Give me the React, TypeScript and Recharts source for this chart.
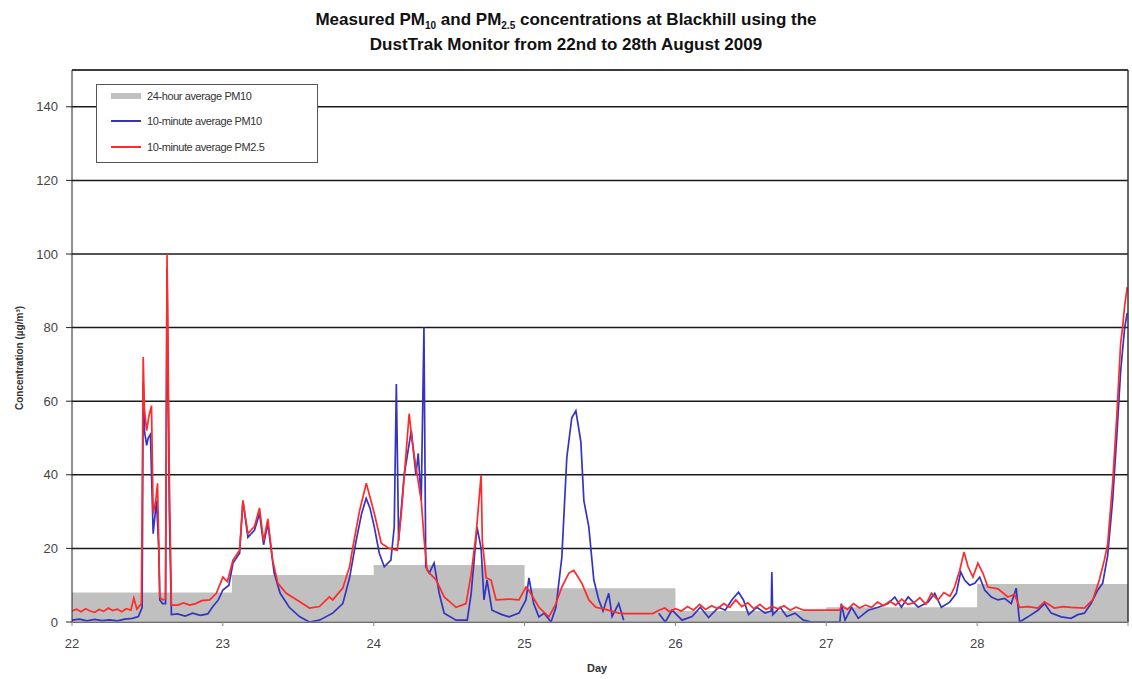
import { ComposedChart, Line, Area, XAxis, YAxis, CartesianGrid, ReferenceLine } from 'recharts';

// x axis: day of August 2009, y axis: concentration (µg/m³)
const dayTicks = [22, 23, 24, 25, 26, 27, 28, 29];
const concTicks = [0, 20, 40, 60, 80, 100, 120, 140];

// 24-hour average PM10, step starts
const avg24: [number, number][] = [
  [22, 8], [23.06, 12.8], [24, 15.5], [25, 9.2], [26, 3], [27, 4], [28, 10.3], [29, 10.3],
];

// 10-minute average PM10 (null = no reading)
const pm10: [number, number | null][] = [
  [22.0, 0.5], [22.05, 0.8], [22.1, 0.3], [22.15, 0.7], [22.2, 0.4], [22.25, 0.6], [22.3, 0.3],
  [22.35, 0.8], [22.4, 1.0], [22.44, 1.5], [22.465, 4], [22.472, 65], [22.48, 52], [22.495, 48],
  [22.505, 50], [22.52, 51], [22.538, 24], [22.56, 33], [22.575, 20], [22.582, 6], [22.6, 5],
  [22.62, 5], [22.63, 96], [22.645, 30], [22.659, 2], [22.7, 2.2], [22.75, 1.6], [22.8, 2.4],
  [22.85, 1.8], [22.9, 2.2], [22.93, 4.0], [22.97, 6.0], [23.0, 8.7], [23.04, 10], [23.067, 16],
  [23.111, 18.7], [23.133, 33], [23.166, 23], [23.21, 25], [23.243, 29.5], [23.27, 21],
  [23.298, 26.8], [23.34, 13.3], [23.38, 7.8], [23.44, 4], [23.51, 1.4], [23.574, 0], [23.64, 0.5],
  [23.728, 2.4], [23.795, 5], [23.84, 12], [23.883, 22], [23.92, 29.5], [23.95, 33.6], [23.975, 31],
  [24.004, 25.8], [24.037, 18.7], [24.07, 15], [24.114, 16.8], [24.136, 25.8], [24.15, 64.7],
  [24.165, 22], [24.202, 40], [24.249, 52], [24.28, 40], [24.295, 45.8], [24.315, 33], [24.333, 80],
  [24.345, 15], [24.368, 13.3], [24.4, 16], [24.434, 7.8], [24.467, 2.4], [24.546, 0.5], [24.62, 0.5],
  [24.646, 7.8], [24.685, 25.8], [24.712, 20], [24.731, 6], [24.751, 11.4], [24.784, 3.2], [24.85, 2],
  [24.897, 1.4], [24.963, 2.4], [25.009, 6], [25.029, 12], [25.06, 5], [25.095, 1.4], [25.13, 2.4],
  [25.175, 0], [25.208, 4], [25.247, 17.6], [25.28, 44.7], [25.313, 55.5], [25.34, 57.4], [25.373, 49],
  [25.393, 33], [25.426, 25.8], [25.459, 11.4], [25.492, 6], [25.52, 3], [25.558, 7.8], [25.58, 1.5],
  [25.624, 5], [25.657, 0.5], [25.7, null], [25.85, null], [25.889, 2.4], [25.933, 0], [25.978, 3.2],
  [26.044, 0.5], [26.11, 1.5], [26.165, 4], [26.22, 1.2], [26.286, 4], [26.33, 3.2], [26.374, 6],
  [26.418, 8.1], [26.451, 6], [26.485, 2], [26.54, 4], [26.595, 2.4], [26.635, 3], [26.639, 13.6],
  [26.645, 2.0], [26.694, 4], [26.738, 1.5], [26.793, 2.4], [26.848, 0.5], [26.903, 0], [26.99, 0],
  [27.09, 0], [27.1, 5], [27.124, 0.5], [27.168, 4], [27.212, 1], [27.278, 3.2], [27.344, 4],
  [27.41, 5], [27.454, 6.8], [27.498, 4], [27.543, 6.8], [27.609, 4], [27.675, 5.4], [27.719, 7.8],
  [27.763, 4], [27.818, 5.4], [27.862, 7.8], [27.891, 13.6], [27.917, 11.4], [27.95, 10],
  [27.984, 10.5], [28.017, 12.2], [28.05, 8.7], [28.094, 6.8], [28.138, 6], [28.182, 6.4],
  [28.226, 5], [28.259, 9.2], [28.281, 0], [28.337, 1.4], [28.403, 3.2], [28.447, 5], [28.491, 2.4],
  [28.557, 1.4], [28.623, 1], [28.667, 2], [28.711, 2.4], [28.755, 5], [28.8, 8.7], [28.832, 10.5],
  [28.865, 18], [28.898, 33], [28.925, 50], [28.951, 68], [28.978, 80], [28.995, 84],
];

// 10-minute average PM2.5
const pm25: [number, number][] = [
  [22.0, 3.0], [22.03, 3.5], [22.06, 2.8], [22.09, 3.6], [22.12, 3.0], [22.15, 2.6], [22.18, 3.4],
  [22.21, 2.9], [22.24, 3.8], [22.27, 3.1], [22.3, 3.5], [22.33, 2.8], [22.36, 3.6], [22.39, 3.2],
  [22.41, 6.5], [22.43, 3.5], [22.46, 5], [22.472, 72], [22.48, 58], [22.495, 52], [22.51, 56],
  [22.527, 58.8], [22.538, 29.5], [22.555, 33], [22.567, 37.7], [22.582, 6.8], [22.6, 6.0],
  [22.62, 6.2], [22.63, 100], [22.645, 40], [22.659, 4.6], [22.7, 4.6], [22.74, 5.2], [22.78, 4.6],
  [22.82, 5.0], [22.86, 5.8], [22.913, 6.0], [22.957, 7.8], [23.0, 12.2], [23.03, 11], [23.067, 16.8],
  [23.111, 19.5], [23.133, 33], [23.166, 24], [23.21, 26], [23.243, 31], [23.27, 22], [23.298, 28],
  [23.33, 16.8], [23.365, 10.5], [23.42, 7.8], [23.51, 5.5], [23.574, 3.8], [23.64, 4.2],
  [23.706, 6.8], [23.728, 6], [23.795, 9.2], [23.84, 15], [23.858, 19.5], [23.905, 30],
  [23.951, 37.7], [24.004, 29.5], [24.05, 21.4], [24.103, 20], [24.156, 19.5], [24.183, 29.5],
  [24.235, 56.6], [24.255, 49], [24.28, 42], [24.315, 33], [24.335, 22], [24.354, 14], [24.414, 11.4],
  [24.467, 6.8], [24.546, 4], [24.612, 5], [24.646, 13], [24.679, 24], [24.712, 40], [24.72, 22],
  [24.745, 12], [24.778, 11.4], [24.811, 6], [24.9, 6.2], [24.963, 6], [25.009, 9.5], [25.03, 8.5],
  [25.095, 4], [25.161, 1.4], [25.208, 5], [25.247, 9.5], [25.294, 13.3], [25.327, 14], [25.38, 10.5],
  [25.426, 6], [25.472, 4], [25.53, 3.5], [25.624, 2.4], [25.67, 2.3], [25.75, 2.3], [25.85, 2.3],
  [25.89, 3.2], [25.93, 3.8], [25.96, 2.8], [26.0, 3.6], [26.04, 3.0], [26.08, 4.2], [26.12, 3.2],
  [26.16, 4.8], [26.2, 3.4], [26.24, 4.4], [26.28, 3.6], [26.32, 5.0], [26.36, 4.0], [26.4, 6.0],
  [26.44, 4.2], [26.48, 5.2], [26.52, 3.6], [26.56, 4.8], [26.6, 3.4], [26.64, 4.2], [26.68, 3.6],
  [26.72, 4.4], [26.76, 3.2], [26.8, 4.0], [26.85, 3.2], [26.9, 3.2], [26.95, 3.2], [27.0, 3.2],
  [27.09, 3.2], [27.1, 4.5], [27.14, 3.4], [27.18, 5.0], [27.22, 3.8], [27.26, 4.6], [27.3, 4.0],
  [27.34, 5.4], [27.38, 4.4], [27.42, 5.6], [27.46, 4.6], [27.5, 6.2], [27.54, 4.8], [27.58, 5.2],
  [27.62, 6.6], [27.66, 4.8], [27.697, 7.8], [27.74, 6.0], [27.78, 8.0], [27.82, 7.0], [27.851, 9.5],
  [27.884, 14], [27.913, 19], [27.94, 15], [27.972, 12.2], [28.005, 16], [28.038, 13.3],
  [28.071, 9.5], [28.138, 9], [28.204, 6.8], [28.248, 7.5], [28.281, 4], [28.34, 4.2], [28.402, 3.8],
  [28.446, 5.5], [28.512, 3.8], [28.57, 4.2], [28.622, 4.0], [28.711, 3.8], [28.766, 6],
  [28.81, 11.4], [28.843, 16.8], [28.865, 21], [28.898, 37.7], [28.925, 55.5], [28.951, 75.6],
  [28.964, 80], [28.978, 86], [28.995, 91],
];

const rows = (pts: [number, number | null][]) => pts.map(([day, v]) => ({ day, v }));

const FONT = "'Liberation Sans', Arial, sans-serif";

function LegendBox() {
  const item = (swatch: JSX.Element, text: string, top: number) => (
    <div style={{ position: 'absolute', left: 14, top, display: 'flex', alignItems: 'center' }}>
      <div style={{ width: 32, display: 'flex', alignItems: 'center' }}>{swatch}</div>
      <span style={{ marginLeft: 4, fontSize: 11, color: '#333', letterSpacing: -0.4 }}>{text}</span>
    </div>
  );
  return (
    <div style={{ position: 'absolute', left: 96, top: 84, width: 220, height: 77, border: '1px solid #555', background: '#fff', fontFamily: FONT }}>
      {item(<div style={{ width: 30, height: 6, background: '#c0c0c0' }} />, '24-hour average PM10', 5)}
      {item(<div style={{ width: 30, height: 1.5, background: '#3434c0' }} />, '10-minute average PM10', 30)}
      {item(<div style={{ width: 30, height: 1.5, background: '#ff2a2a' }} />, '10-minute average PM2.5', 56)}
    </div>
  );
}

export default function App() {
  const sub = { fontSize: 10, position: 'relative' as const, top: 4 };
  return (
    <div style={{ position: 'absolute', left: 0, top: 0, width: 1132, height: 679, background: '#fff' }}>
      <div style={{ position: 'absolute', left: 0, top: 8, width: 1132, textAlign: 'center', fontFamily: FONT, fontWeight: 'bold', fontSize: 17, lineHeight: '23px', color: '#111' }}>
        <div>Measured PM<span style={sub}>10</span> and PM<span style={sub}>2.5</span> concentrations at Blackhill using the</div>
        <div>DustTrak Monitor from 22nd to 28th August 2009</div>
      </div>
      <ComposedChart width={1132} height={679} margin={{ top: 70, right: 4, bottom: 27, left: 12 }}>
        <CartesianGrid vertical={false} stroke="#1a1a1a" strokeWidth={1.5} />
        <XAxis
          type="number"
          dataKey="day"
          domain={[22, 29]}
          ticks={dayTicks}
          tickFormatter={(d: number) => (d === 29 ? '' : String(d))}
          height={30}
          stroke="#888"
          tickSize={4}
          tickMargin={13}
          tick={{ fontSize: 13, fill: '#444', fontFamily: FONT }}
          allowDataOverflow
        />
        <YAxis
          type="number"
          domain={[0, 150]}
          ticks={concTicks}
          width={60}
          stroke="#222"
          tickSize={6}
          tickMargin={8}
          tick={{ fontSize: 13, fill: '#444', fontFamily: FONT }}
          allowDataOverflow
        />
        <Area data={rows(avg24)} dataKey="v" type="stepAfter" fill="#c0c0c0" fillOpacity={1} stroke="none" isAnimationActive={false} />
        <Line data={rows(pm10)} dataKey="v" stroke="#3434c0" strokeWidth={1.7} dot={false} isAnimationActive={false} />
        <Line data={rows(pm25)} dataKey="v" stroke="#ff2a2a" strokeWidth={1.7} dot={false} isAnimationActive={false} />
        <ReferenceLine y={150} stroke="#333" strokeWidth={1.5} />
        <ReferenceLine x={29} stroke="#333" strokeWidth={1.5} />
      </ComposedChart>
      <LegendBox />
      <div style={{ position: 'absolute', left: 587, top: 662, fontFamily: FONT, fontWeight: 'bold', fontSize: 11, color: '#333' }}>Day</div>
      <div style={{ position: 'absolute', left: 19, top: 358, transform: 'translate(-50%, -50%) rotate(-90deg)', whiteSpace: 'nowrap', fontFamily: FONT, fontWeight: 'bold', fontSize: 10, color: '#333' }}>
        Concentration (µg/m³)
      </div>
    </div>
  );
}
